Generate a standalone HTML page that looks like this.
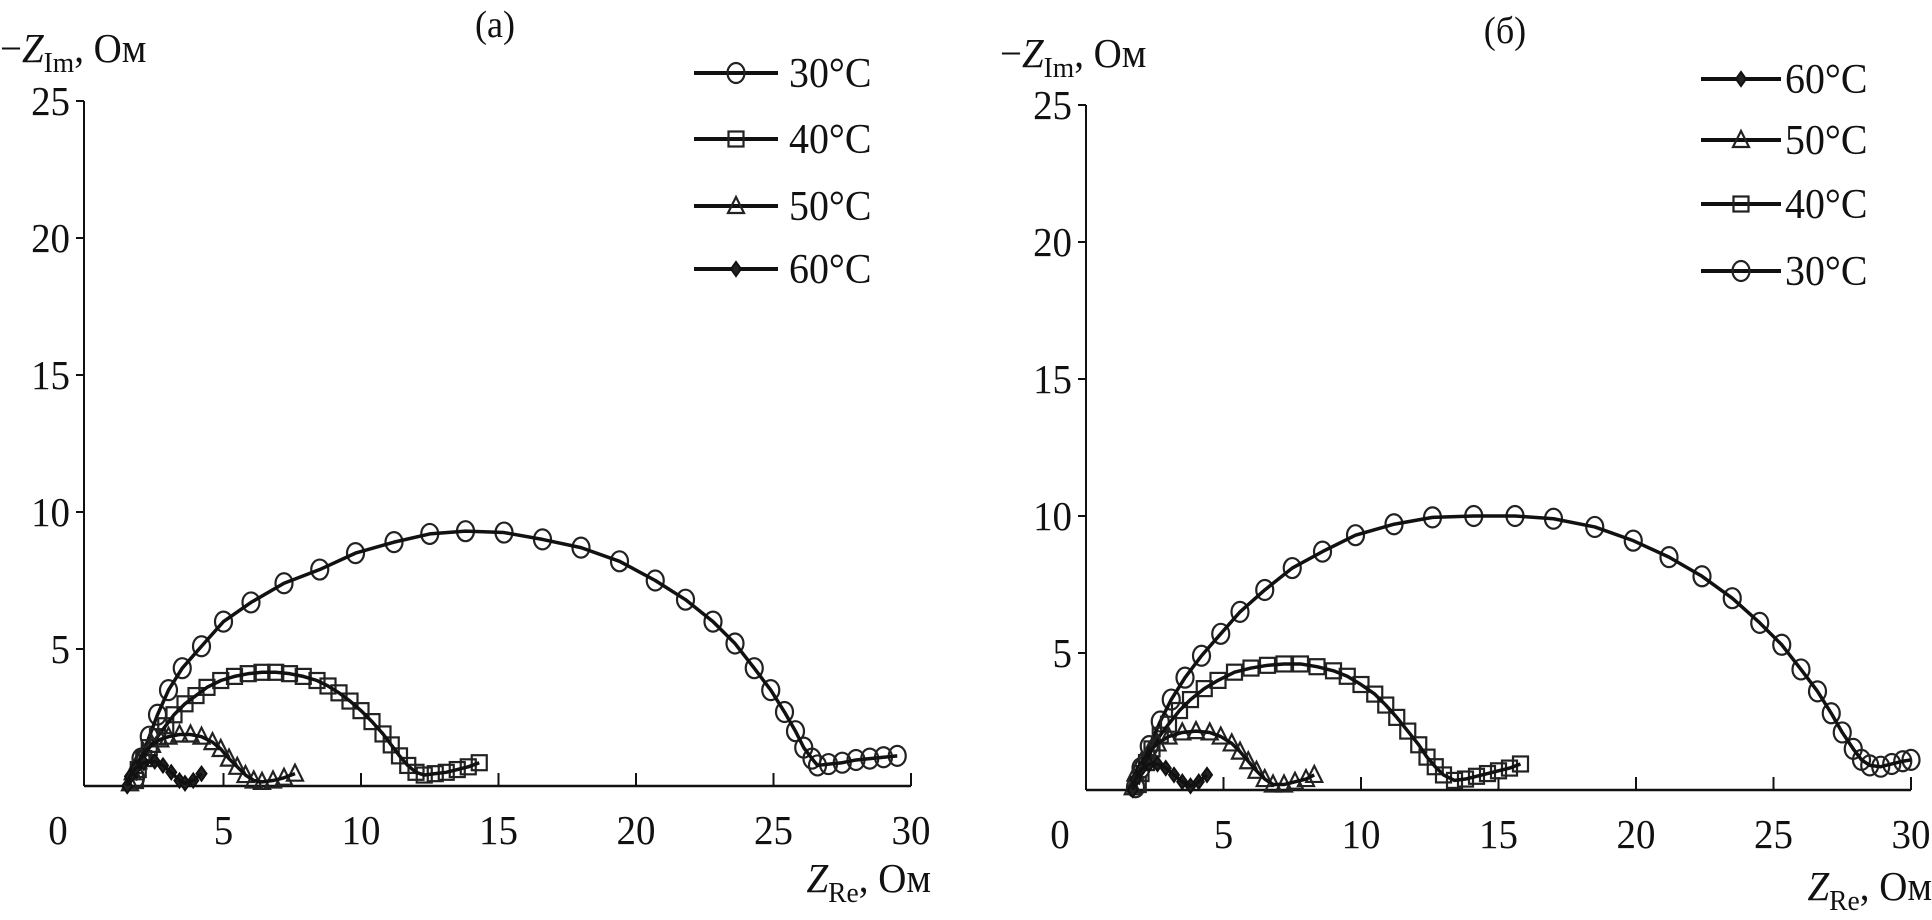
<!DOCTYPE html>
<html><head><meta charset="utf-8"><style>
html,body{margin:0;padding:0;background:#fff;}
svg{display:block;font-family:"Liberation Serif",serif;}
</style></head><body>
<svg id="chart" width="1932" height="920" viewBox="0 0 1932 920" xmlns="http://www.w3.org/2000/svg"></svg>
<script>
// ---- Data (Z_Re, -Z_Im pairs in Ohm) ----
const xTicks = [0,5,10,15,20,25,30];
const yTicks = [5,10,15,20,25];
const seriesLabelsA = ["30°C","40°C","50°C","60°C"];
const seriesLabelsB = ["60°C","50°C","40°C","30°C"];
const a30 = [[1.8,0.3],[2.0,1.0],[2.3,1.8],[2.6,2.6],[3.0,3.5],[3.5,4.3],[4.2,5.1],[5.0,6.0],[6.0,6.7],[7.2,7.4],[8.5,7.9],[9.8,8.5],[11.2,8.9],[12.5,9.2],[13.8,9.3],[15.2,9.25],[16.6,9.0],[18.0,8.7],[19.4,8.2],[20.7,7.5],[21.8,6.8],[22.8,6.0],[23.6,5.2],[24.3,4.3],[24.9,3.5],[25.4,2.7],[25.8,2.0],[26.1,1.4],[26.4,1.0],[26.6,0.75],[27.0,0.8],[27.5,0.85],[28.0,0.95],[28.5,1.0],[29.0,1.05],[29.5,1.1]];
const a40 = [[1.8,0.2],[1.9,0.6],[2.1,1.0],[2.3,1.4],[2.6,1.8],[2.9,2.2],[3.2,2.6],[3.6,3.0],[4.0,3.3],[4.4,3.6],[4.9,3.85],[5.4,4.0],[5.9,4.1],[6.4,4.15],[6.9,4.15],[7.4,4.1],[7.9,4.0],[8.4,3.85],[8.8,3.65],[9.2,3.4],[9.6,3.1],[10.0,2.75],[10.4,2.35],[10.8,1.9],[11.1,1.5],[11.4,1.1],[11.7,0.75],[12.0,0.5],[12.3,0.4],[12.7,0.45],[13.1,0.5],[13.5,0.6],[13.9,0.7],[14.3,0.85]];
const a50 = [[1.6,0.1],[1.7,0.5],[1.9,0.9],[2.1,1.2],[2.4,1.5],[2.7,1.7],[3.0,1.8],[3.4,1.88],[3.8,1.88],[4.2,1.8],[4.6,1.6],[4.9,1.35],[5.2,1.0],[5.5,0.7],[5.8,0.4],[6.1,0.2],[6.4,0.15],[6.8,0.2],[7.2,0.3],[7.6,0.45]];
const a60 = [[1.5,0.0],[1.6,0.35],[1.8,0.65],[2.1,0.85],[2.5,0.9],[2.8,0.75],[3.1,0.5],[3.4,0.2],[3.6,0.1],[3.9,0.2],[4.2,0.45]];
const b30 = [[1.8,0.1],[2.0,0.8],[2.3,1.6],[2.7,2.5],[3.1,3.3],[3.6,4.1],[4.2,4.9],[4.9,5.7],[5.6,6.5],[6.5,7.3],[7.5,8.1],[8.6,8.7],[9.8,9.3],[11.2,9.7],[12.6,9.95],[14.1,10.0],[15.6,10.0],[17.0,9.9],[18.5,9.6],[19.9,9.1],[21.2,8.5],[22.4,7.8],[23.5,7.0],[24.5,6.1],[25.3,5.3],[26.0,4.4],[26.6,3.6],[27.1,2.8],[27.5,2.1],[27.9,1.5],[28.2,1.1],[28.5,0.9],[28.9,0.85],[29.3,0.95],[29.7,1.05],[30.0,1.1]];
const b40 = [[1.9,0.2],[2.0,0.6],[2.2,1.0],[2.4,1.5],[2.7,2.0],[3.0,2.4],[3.4,2.9],[3.8,3.3],[4.3,3.7],[4.8,4.0],[5.4,4.3],[6.0,4.45],[6.6,4.55],[7.2,4.6],[7.8,4.6],[8.4,4.5],[9.0,4.35],[9.5,4.15],[10.0,3.85],[10.5,3.5],[10.9,3.1],[11.3,2.65],[11.7,2.15],[12.1,1.65],[12.4,1.2],[12.7,0.85],[13.0,0.55],[13.4,0.35],[13.8,0.4],[14.2,0.5],[14.6,0.6],[15.0,0.7],[15.4,0.8],[15.8,0.95]];
const b50 = [[1.7,0.1],[1.8,0.6],[2.0,1.0],[2.3,1.4],[2.6,1.7],[3.0,1.95],[3.5,2.1],[4.0,2.15],[4.5,2.1],[4.9,1.95],[5.3,1.7],[5.6,1.4],[5.9,1.05],[6.2,0.7],[6.5,0.4],[6.8,0.2],[7.2,0.2],[7.6,0.3],[8.0,0.4],[8.3,0.55]];
const b60 = [[1.7,0.0],[1.8,0.4],[2.0,0.75],[2.3,0.95],[2.6,0.95],[2.9,0.8],[3.2,0.55],[3.5,0.3],[3.8,0.15],[4.1,0.3],[4.4,0.55]];

const NS = "http://www.w3.org/2000/svg";
const svg = document.getElementById("chart");
function mk(tag, attrs, parent){
  const e = document.createElementNS(NS, tag);
  for (const k in attrs) e.setAttribute(k, attrs[k]);
  (parent||svg).appendChild(e);
  return e;
}
function txt(x, y, s, size, anchor, parent){
  const t = mk("text", {transform:`translate(${x},${y}) scale(0.95,1)`, "font-size":size, "text-anchor":anchor||"start", fill:"#111"}, parent);
  t.textContent = s;
  return t;
}
function marker(g, type, px, py){
  let m;
  if (type==="circle") m = mk("ellipse",{cx:px,cy:py,rx:8.5,ry:10,fill:"none",stroke:"#222","stroke-width":2.2},g);
  else if (type==="square") m = mk("rect",{x:px-7.5,y:py-7.5,width:15,height:15,fill:"none",stroke:"#222","stroke-width":2.2},g);
  else if (type==="triangle") m = mk("polygon",{points:`${px},${py-9} ${px-8},${py+7} ${px+8},${py+7}`,fill:"none",stroke:"#222","stroke-width":2.2},g);
  else m = mk("polygon",{points:`${px},${py-7} ${px-5},${py} ${px},${py+7} ${px+5},${py}`,fill:"#222",stroke:"#111","stroke-width":2},g);
  return m;
}

function panel(cfg){
  const sx = v => cfg.x0 + v*cfg.ux;
  const sy = v => cfg.y0 - v*cfg.uy;
  const g = mk("g",{});
  
  
  const ya = mk("line",{x1:cfg.axX,y1:sy(0),x2:cfg.axX,y2:sy(25),stroke:"#111","stroke-width":2},g);
  
  
  const xa = mk("line",{x1:cfg.axX,y1:sy(0),x2:sx(30),y2:sy(0),stroke:"#111","stroke-width":2.5},g);
  
  
  yTicks.forEach(v=>{
    mk("line",{x1:cfg.axX-8,y1:sy(v),x2:cfg.axX,y2:sy(v),stroke:"#111","stroke-width":2},g);
    const t = txt(cfg.axX-14, sy(v)+14, String(v), 41, "end", g);
    
    
  });
  xTicks.forEach(v=>{
    if (v>0) mk("line",{x1:sx(v),y1:sy(0),x2:sx(v),y2:sy(0)-13,stroke:"#111","stroke-width":2},g);
    const t = txt(v===0?cfg.axX-26:sx(v), sy(0)+58, String(v), 41, "middle", g);
    
    
  });
  const pt = txt(cfg.titleX, cfg.titleY, cfg.title, 38, "middle", g);
  
  
  const yt = mk("text",{transform:`translate(${cfg.ytX},${cfg.ytY}) scale(0.95,1)`,"font-size":41,fill:"#111"},g);
  
  
  yt.innerHTML = '−<tspan font-style="italic">Z</tspan><tspan font-size="29" dy="10">Im</tspan><tspan dy="-10">, Ом</tspan>';
  const xt = mk("text",{transform:`translate(${cfg.xtX},${cfg.xtY}) scale(0.95,1)`,"font-size":41,fill:"#111","text-anchor":"end"},g);
  
  
  xt.innerHTML = '<tspan font-style="italic">Z</tspan><tspan font-size="29" dy="10">Re</tspan><tspan dy="-10">, Ом</tspan>';
  cfg.series.forEach(s=>{
    const sg = mk("g",{},g);
    
    
    s.data.forEach(p=>{
      const m = marker(sg, s.type, sx(p[0]), sy(p[1]));
      
      
    });
    const line = mk("polyline",{points:s.data.map(p=>sx(p[0])+","+sy(p[1])).join(" "),fill:"none",stroke:"#111","stroke-width":3.5,"stroke-linejoin":"round"},sg);
    
    
  });
  cfg.legend.forEach((lab,i)=>{
    const s = cfg.series.find(q=>q.label===lab);
    const y = cfg.legY[i];
    const lg = mk("g",{},g);
    
    
    mk("line",{x1:cfg.legX1,y1:y,x2:cfg.legX2,y2:y,stroke:"#111","stroke-width":4},lg);
    marker(lg, s.type, (cfg.legX1+cfg.legX2)/2, y);
    txt(cfg.legTX, y+14, lab, 42, "start", lg);
  });
}

panel({name:"panel-a", x0:86, ux:27.5, y0:786, uy:27.4, axX:84, title:"(a)", titleX:495, titleY:37,
  ytX:0, ytY:62, xtX:931, xtY:892,
  series:[{label:"30°C",type:"circle",data:a30},{label:"40°C",type:"square",data:a40},{label:"50°C",type:"triangle",data:a50},{label:"60°C",type:"diamond",data:a60}],
  legend:seriesLabelsA, legY:[73,139,206,269], legX1:694, legX2:778, legTX:789});
panel({name:"panel-b", x0:1086, ux:27.5, y0:790, uy:27.4, axX:1086, title:"(б)", titleX:1505, titleY:43,
  ytX:1000, ytY:67, xtX:1932, xtY:900,
  series:[{label:"30°C",type:"circle",data:b30},{label:"40°C",type:"square",data:b40},{label:"50°C",type:"triangle",data:b50},{label:"60°C",type:"diamond",data:b60}],
  legend:seriesLabelsB, legY:[79,140,204,271], legX1:1701, legX2:1781, legTX:1785});
</script>
</body></html>
